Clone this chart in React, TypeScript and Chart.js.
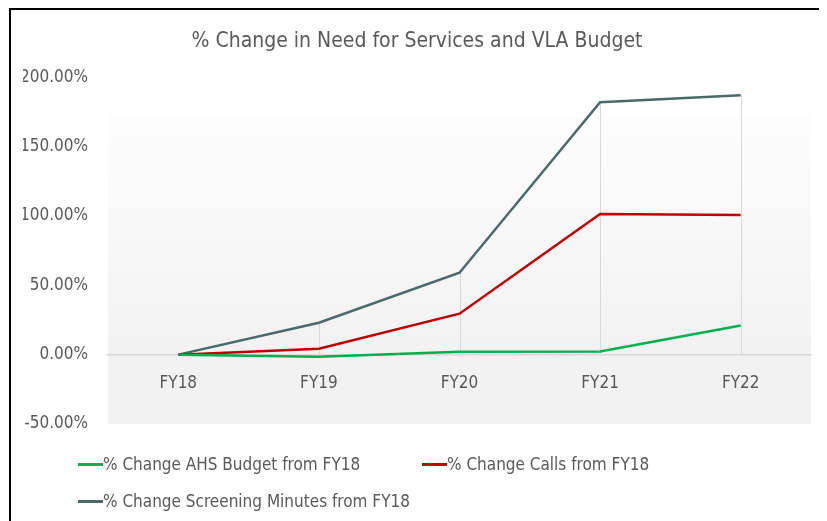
import React, { useEffect, useRef } from "react";
import { Chart, registerables } from "chart.js";

Chart.register(...registerables);

const categories = ["FY18", "FY19", "FY20", "FY21", "FY22"];
const ahsBudget = [0, -1.5, 2.0, 2.2, 21.0];
const calls = [0, 4.3, 29.5, 101.4, 100.7];
const screening = [0, 23, 59, 182, 187];
const seriesLabels = [
  "% Change AHS Budget from FY18",
  "% Change Calls from FY18",
  "% Change Screening Minutes from FY18",
];
const seriesColors = ["#00b050", "#c00000", "#4a6a6a"];
const yMin = -50;
const yMax = 200;
const yStep = 50;
const titleText = "% Change in Need for Services and VLA Budget";

const FONT = "'DejaVu Sans Condensed', 'Liberation Sans Narrow', 'Open Sans', sans-serif";
const TEXT = "#595959";

const bgPlugin = {
  id: "plotBg",
  beforeDraw(chart: any) {
    const { ctx, chartArea } = chart;
    const { left, right, top, bottom } = chartArea;
    const g = ctx.createLinearGradient(0, top, 0, bottom);
    g.addColorStop(0, "#ffffff");
    g.addColorStop(0.105, "#ffffff");
    g.addColorStop(0.11, "#fdfdfd");
    g.addColorStop(0.8, "#f2f2f2");
    g.addColorStop(1, "#f2f2f2");
    ctx.save();
    ctx.fillStyle = g;
    ctx.fillRect(left, top, right - left, bottom - top);
    ctx.restore();
  },
  beforeDatasetsDraw(chart: any) {
    const { ctx, scales } = chart;
    const xs = scales.x;
    const ys = scales.y;
    const sets = chart.data.datasets;
    ctx.save();
    ctx.strokeStyle = "#d9d9d9";
    ctx.lineWidth = 1;
    chart.data.labels.forEach((_: any, i: number) => {
      const maxV = Math.max(...sets.map((d: any) => d.data[i]));
      if (maxV <= 0) return;
      const x = Math.round(xs.getPixelForValue(i)) + 0.5;
      ctx.beginPath();
      ctx.moveTo(x, ys.getPixelForValue(maxV));
      ctx.lineTo(x, ys.getPixelForValue(0));
      ctx.stroke();
    });
    ctx.restore();
  },
};

export default function App() {
  const ref = useRef<HTMLCanvasElement | null>(null);

  useEffect(() => {
    document.documentElement.style.overflow = "hidden";
    document.body.style.overflow = "hidden";
    if (!ref.current) return;
    const chart = new Chart(ref.current, {
      type: "line",
      data: {
        labels: categories,
        datasets: [ahsBudget, calls, screening].map((d, i) => ({
          label: seriesLabels[i],
          data: d,
          borderColor: seriesColors[i],
          backgroundColor: seriesColors[i],
          borderWidth: 2.5,
          pointRadius: 0,
          tension: 0,
          fill: false,
        })),
      },
      options: {
        responsive: false,
        animation: false,
        layout: { padding: { left: 12, right: 12, top: 0, bottom: 106 } },
        plugins: {
          legend: { display: false },
          tooltip: { enabled: false },
          title: {
            display: true,
            text: titleText,
            color: TEXT,
            font: { family: FONT, size: 21, weight: "normal" },
            padding: { top: 19, bottom: 23 },
          },
        },
        scales: {
          x: {
            position: { y: 0 } as any,
            offset: true,
            grid: { display: false, drawTicks: false },
            border: { display: true, color: "#d9d9d9", width: 1.5 },
            ticks: {
              color: TEXT,
              font: { family: FONT, size: 17 },
              padding: 19,
            },
          },
          y: {
            min: yMin,
            max: yMax,
            grid: { display: false, drawTicks: false },
            border: { display: false },
            afterFit(scale: any) {
              scale.width = 85;
            },
            ticks: {
              stepSize: yStep,
              color: TEXT,
              padding: 20,
              font: { family: FONT, size: 17 },
              callback: (v: any) => Number(v).toFixed(2) + "%",
            },
          },
        },
      },
      plugins: [bgPlugin],
    });
    return () => chart.destroy();
  }, []);

  const legendRows = [
    [
      { i: 0, left: 67 },
      { i: 1, left: 411 },
    ],
    [{ i: 2, left: 67 }],
  ];
  const rowTops = [442, 479];

  return (
    <div
      style={{
        position: "relative",
        marginLeft: 1,
        width: 812,
        height: 520,
        border: "2px solid #000",
        background: "#fff",
      }}
    >
      <canvas ref={ref} width={812} height={520} style={{ display: "block" }} />
      {legendRows.map((row, r) =>
        row.map((it) => (
          <div
            key={it.i}
            style={{
              position: "absolute",
              left: it.left,
              top: rowTops[r],
              height: 24,
              display: "flex",
              alignItems: "center",
              fontFamily: FONT,
              fontSize: 17,
              color: TEXT,
              whiteSpace: "nowrap",
            }}
          >
            <span
              style={{
                display: "inline-block",
                width: 25,
                height: 3,
                background: seriesColors[it.i],
              }}
            />
            <span>{seriesLabels[it.i]}</span>
          </div>
        ))
      )}
    </div>
  );
}
